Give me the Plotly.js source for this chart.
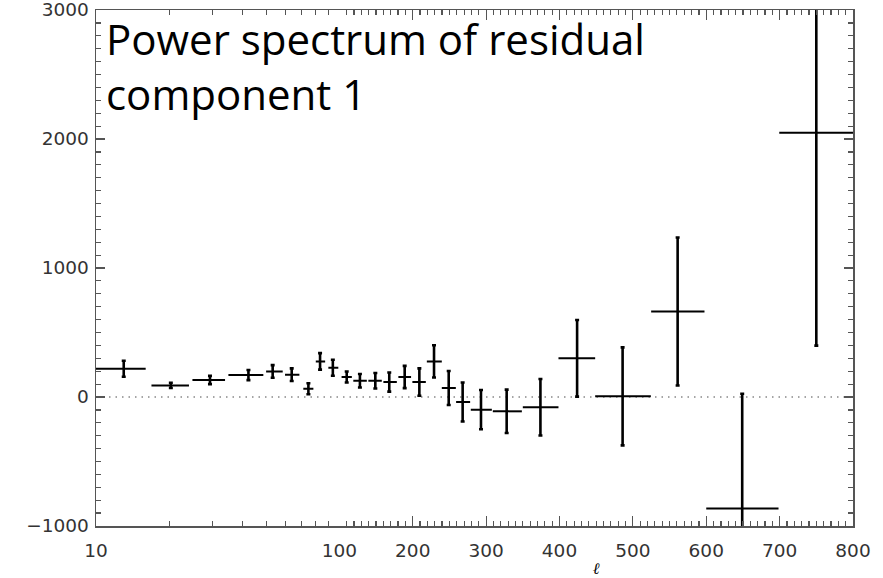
<!DOCTYPE html>
<html>
<head>
<meta charset="utf-8">
<script src="https://cdn.plot.ly/plotly-3.0.1.min.js"></script>
<style>html,body{margin:0;padding:0;background:#fff}#chart{width:883px;height:578px}</style>
</head>
<body>
<div id="chart"></div>
<script>
// multipole bin centres and bin edges
var ell    = [13, 20.3, 29.4, 42.3, 53.2, 63.7, 74.6, 83.3, 94, 110, 128, 149, 168, 189, 209, 229, 249, 268, 293, 328, 374, 424, 486, 561, 649, 750];
var ellLo  = [10, 16.9, 24.9, 35, 50, 59.8, 71.1, 80, 90.1, 103, 119, 139.5, 160, 180.4, 199.5, 219.2, 239.6, 259.1, 279.1, 309.1, 350, 398.6, 448.6, 524.9, 600, 699.5];
var ellHi  = [16, 24.1, 33.9, 48.7, 58.5, 68.5, 78.2, 87.4, 99, 117, 137.4, 157.8, 178.3, 197.7, 217.8, 239.6, 258.7, 278.2, 307.8, 348.7, 398.6, 448.6, 524.5, 597.6, 698.5, 800];
// band power and 1-sigma errors
var power  = [219, 90, 132, 170, 198, 173, 64, 276, 227, 155, 126, 126, 116, 155, 116, 276, 70, -39, -98, -111, -80, 300, 5, 663, -865, 2048];
var err    = [62, 20, 32, 39, 49, 49, 43, 64, 62, 43, 52, 60, 74, 86, 106, 125, 132, 151, 152, 168, 219, 297, 380, 574, 890, 1650];
var yTicks = [-1000, 0, 1000, 2000, 3000];
var xLinTicks = [100, 200, 300, 400, 500, 600, 700, 800];
var xLogMinor = [20, 30, 40, 50, 60, 70, 80, 90];
var titleText = 'Power spectrum of residual<br>component 1';

function subset(cond) {
  var o = {x: [], y: [], ep: [], em: [], ey: []};
  for (var i = 0; i < ell.length; i++) {
    if (cond(ell[i])) {
      o.x.push(ell[i]); o.y.push(power[i]);
      o.ep.push(ellHi[i] - ell[i]); o.em.push(ell[i] - ellLo[i]);
      o.ey.push(err[i]);
    }
  }
  return o;
}
function trace(d, xa, ya) {
  return {
    type: 'scatter', mode: 'markers', x: d.x, y: d.y, xaxis: xa, yaxis: ya,
    marker: {size: 1, color: '#000'},
    error_x: {type: 'data', symmetric: false, array: d.ep, arrayminus: d.em, color: '#000', thickness: 2, width: 0},
    error_y: {type: 'data', array: d.ey, color: '#000', thickness: 2.6, width: 2},
    showlegend: false, hoverinfo: 'x+y'
  };
}
var lowPart = subset(function (l) { return l < 100; });
var highPart = subset(function (l) { return l >= 100; });

var axCol = '#555';
var tickFont = {family: 'DejaVu Sans', size: 18.5, color: '#333'};
var split = 0.3215;
var yRange = [-1000, 3000];

function yAxis(anchor, side, labels) {
  return {
    range: yRange, tickmode: 'array', tickvals: yTicks, anchor: anchor, side: side,
    showticklabels: labels, ticklabeloverflow: 'allow',
    ticks: 'inside', ticklen: 9, tickwidth: 1.2, tickcolor: axCol,
    minor: {dtick: 100, ticks: 'inside', ticklen: 5, tickwidth: 1.2, tickcolor: axCol},
    showline: true, linecolor: axCol, linewidth: 1.5, mirror: false,
    showgrid: false, zeroline: false, tickfont: tickFont, ticklabelstandoff: 2
  };
}

var layout = {
  width: 883, height: 578,
  margin: {l: 96, r: 30, t: 10, b: 52},
  paper_bgcolor: '#fff', plot_bgcolor: '#fff',
  showlegend: false,
  annotations: [{
    text: titleText, showarrow: false, align: 'left',
    font: {family: 'Open Sans', size: 42, color: '#000'},
    xref: 'paper', x: 0.011, xanchor: 'left',
    yref: 'paper', y: 1.004, yanchor: 'top'
  }],
  xaxis: {
    type: 'log', range: [1, 2], domain: [0, split], anchor: 'y',
    tickmode: 'array', tickvals: [10], ticktext: ['10'],
    ticks: 'inside', ticklen: 10, tickwidth: 1.2, tickcolor: axCol,
    minor: {tickmode: 'array', tickvals: xLogMinor, ticks: 'inside', ticklen: 5, tickwidth: 1.2, tickcolor: axCol},
    showline: true, linecolor: axCol, linewidth: 1.5, mirror: 'ticks',
    showgrid: false, zeroline: false, tickfont: tickFont, ticklabelstandoff: 7, ticklabeloverflow: 'allow'
  },
  xaxis2: {
    type: 'linear', range: [100, 800], domain: [split, 1], anchor: 'y2',
    tickmode: 'array', tickvals: xLinTicks,
    ticks: 'inside', ticklen: 10, tickwidth: 1.2, tickcolor: axCol,
    minor: {dtick: 10, ticks: 'inside', ticklen: 5, tickwidth: 1.2, tickcolor: axCol},
    showline: true, linecolor: axCol, linewidth: 1.5, mirror: 'ticks',
    showgrid: false, zeroline: false, tickfont: tickFont, ticklabelstandoff: 7, ticklabeloverflow: 'allow',
    title: {text: '<i>ℓ</i>', font: {family: 'DejaVu Serif', size: 16, color: '#000'}, standoff: 9}
  },
  yaxis: yAxis('x', 'left', true),
  yaxis2: yAxis('x2', 'right', false),
  shapes: [{
    type: 'line', xref: 'paper', x0: 0, x1: 1, yref: 'y', y0: 0, y1: 0,
    line: {color: '#888', width: 1.3, dash: '1.5px,5px'}, layer: 'below'
  }]
};

Plotly.newPlot('chart', [trace(lowPart, 'x', 'y'), trace(highPart, 'x2', 'y2')], layout, {displayModeBar: false, staticPlot: true});
</script>
</body>
</html>
